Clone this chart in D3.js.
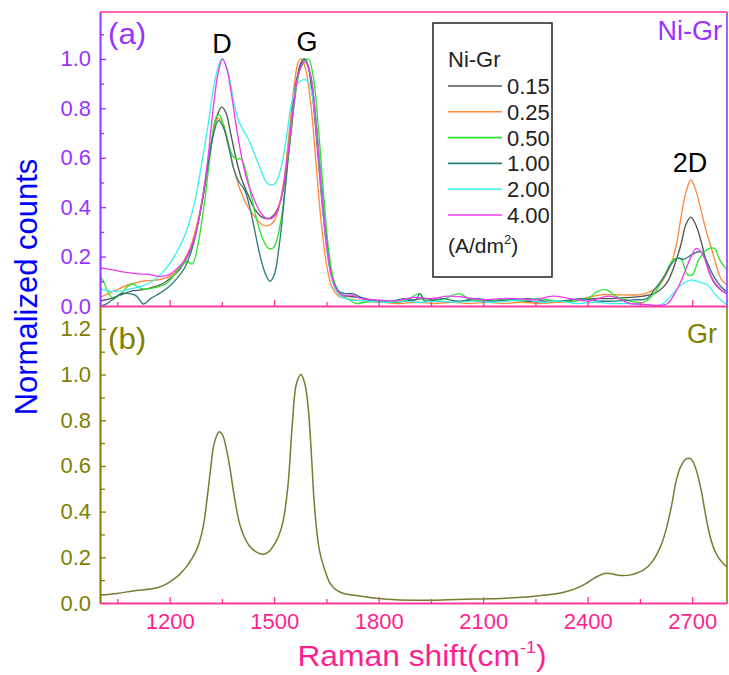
<!DOCTYPE html>
<html>
<head>
<meta charset="utf-8">
<script src="https://cdn.jsdelivr.net/npm/d3@7"></script>
<style>
  html, body { margin: 0; padding: 0; background: #fff; }
  svg { display: block; font-family: "Liberation Sans", Arial, Helvetica, sans-serif; }
</style>
</head>
<body>
<div id="chart"></div>
<script>
// ---- data -------------------------------------------------------------
// Ni-Gr composite coatings, current density in A/dm^2
const currentDensities = ["0.15", "0.25", "0.50", "1.00", "2.00", "4.00"];

// Normalized Raman spectra, [Raman shift (cm^-1), normalized counts]
const niGr015 = [[1000,0.02],[1030,0.03],[1060,0.045],[1090,0.06],[1120,0.065],[1150,0.075],[1180,0.09],[1200,0.11],[1230,0.15],[1260,0.23],[1285,0.36],[1305,0.52],[1325,0.7],[1340,0.785],[1350,0.805],[1362,0.78],[1375,0.7],[1390,0.6],[1405,0.52],[1425,0.45],[1445,0.39],[1465,0.36],[1485,0.355],[1500,0.37],[1515,0.41],[1530,0.5],[1545,0.66],[1560,0.85],[1573,0.97],[1585,1.0],[1597,0.97],[1610,0.85],[1625,0.62],[1640,0.38],[1655,0.2],[1670,0.1],[1690,0.05],[1710,0.04],[1740,0.035],[1780,0.02],[1830,0.015],[1880,0.02],[1930,0.03],[1970,0.02],[2020,0.015],[2070,0.025],[2120,0.02],[2170,0.03],[2220,0.02],[2270,0.015],[2320,0.02],[2370,0.025],[2420,0.03],[2470,0.03],[2520,0.035],[2560,0.04],[2590,0.05],[2612,0.07],[2630,0.1],[2648,0.16],[2668,0.25],[2682,0.33],[2696,0.36],[2710,0.33],[2725,0.265],[2740,0.18],[2754,0.12],[2768,0.085],[2783,0.065],[2800,0.05]];
const niGr025 = [[1000,0.035],[1040,0.06],[1080,0.085],[1120,0.1],[1160,0.105],[1200,0.12],[1230,0.16],[1260,0.24],[1285,0.37],[1305,0.52],[1322,0.68],[1338,0.76],[1352,0.74],[1368,0.66],[1385,0.55],[1405,0.46],[1425,0.4],[1445,0.36],[1465,0.33],[1482,0.325],[1498,0.34],[1512,0.39],[1527,0.5],[1543,0.7],[1558,0.9],[1570,0.99],[1578,1.0],[1590,0.96],[1605,0.82],[1620,0.58],[1635,0.34],[1650,0.17],[1665,0.08],[1685,0.04],[1710,0.03],[1760,0.02],[1810,0.015],[1860,0.01],[1910,0.015],[1960,0.01],[2010,0.015],[2060,0.01],[2110,0.015],[2160,0.01],[2210,0.015],[2260,0.01],[2310,0.015],[2360,0.02],[2400,0.035],[2440,0.045],[2500,0.045],[2552,0.046],[2581,0.058],[2610,0.092],[2639,0.17],[2655,0.25],[2668,0.36],[2682,0.46],[2696,0.51],[2710,0.47],[2725,0.39],[2739,0.31],[2754,0.24],[2768,0.17],[2783,0.11],[2800,0.085]];
const niGr050 = [[1000,0.12],[1010,0.1],[1025,0.05],[1040,0.03],[1060,0.05],[1080,0.08],[1095,0.09],[1110,0.075],[1130,0.068],[1160,0.075],[1190,0.09],[1215,0.13],[1235,0.165],[1250,0.18],[1265,0.17],[1280,0.24],[1300,0.42],[1318,0.63],[1332,0.76],[1342,0.775],[1355,0.73],[1368,0.66],[1380,0.61],[1392,0.595],[1405,0.595],[1418,0.55],[1432,0.46],[1448,0.36],[1465,0.28],[1482,0.235],[1497,0.235],[1510,0.28],[1525,0.4],[1542,0.62],[1560,0.85],[1578,0.97],[1598,1.0],[1612,0.93],[1627,0.72],[1642,0.45],[1657,0.22],[1672,0.1],[1690,0.05],[1710,0.03],[1735,0.01],[1760,0.015],[1800,0.02],[1850,0.015],[1890,0.03],[1915,0.05],[1940,0.02],[1990,0.03],[2030,0.05],[2060,0.03],[2110,0.02],[2160,0.025],[2210,0.02],[2260,0.03],[2310,0.02],[2360,0.02],[2400,0.03],[2430,0.06],[2455,0.065],[2480,0.04],[2520,0.02],[2560,0.015],[2591,0.05],[2619,0.12],[2648,0.19],[2668,0.19],[2677,0.16],[2687,0.127],[2701,0.127],[2720,0.19],[2745,0.23],[2764,0.233],[2778,0.19],[2792,0.16],[2800,0.146]];
const niGr100 = [[1000,0.0],[1020,0.01],[1040,0.03],[1060,0.05],[1085,0.05],[1105,0.04],[1125,0.008],[1145,0.03],[1170,0.05],[1195,0.075],[1220,0.11],[1245,0.16],[1270,0.26],[1290,0.4],[1310,0.57],[1325,0.69],[1340,0.75],[1355,0.72],[1370,0.64],[1385,0.55],[1400,0.5],[1415,0.47],[1430,0.4],[1445,0.3],[1460,0.2],[1475,0.13],[1488,0.1],[1500,0.125],[1515,0.25],[1530,0.45],[1548,0.72],[1565,0.92],[1588,1.0],[1605,0.93],[1620,0.75],[1635,0.5],[1650,0.27],[1665,0.12],[1685,0.06],[1705,0.05],[1725,0.05],[1750,0.035],[1800,0.02],[1840,0.02],[1870,0.03],[1905,0.025],[1918,0.05],[1932,0.02],[1980,0.03],[2030,0.02],[2080,0.03],[2130,0.02],[2180,0.025],[2230,0.03],[2280,0.02],[2330,0.02],[2380,0.03],[2430,0.02],[2480,0.02],[2530,0.025],[2570,0.03],[2591,0.065],[2620,0.12],[2640,0.17],[2658,0.193],[2677,0.19],[2701,0.21],[2725,0.22],[2739,0.19],[2758,0.13],[2783,0.078],[2800,0.058]];
const niGr200 = [[1000,0.07],[1030,0.06],[1060,0.06],[1090,0.07],[1120,0.08],[1150,0.1],[1175,0.13],[1200,0.17],[1225,0.23],[1250,0.31],[1270,0.41],[1290,0.56],[1310,0.73],[1328,0.9],[1342,0.98],[1350,1.0],[1360,0.98],[1372,0.92],[1385,0.82],[1398,0.75],[1412,0.71],[1428,0.67],[1445,0.61],[1462,0.55],[1478,0.5],[1493,0.49],[1505,0.5],[1520,0.56],[1535,0.68],[1550,0.82],[1568,0.9],[1582,0.915],[1597,0.91],[1612,0.83],[1627,0.62],[1642,0.36],[1657,0.17],[1672,0.08],[1690,0.04],[1720,0.025],[1770,0.02],[1820,0.015],[1870,0.02],[1920,0.015],[1970,0.02],[2020,0.015],[2070,0.02],[2120,0.015],[2170,0.02],[2220,0.025],[2270,0.015],[2320,0.02],[2370,0.01],[2420,0.015],[2470,0.01],[2520,0.01],[2570,0.005],[2610,0.005],[2639,0.04],[2668,0.085],[2696,0.105],[2725,0.095],[2745,0.085],[2764,0.05],[2783,0.023],[2800,0.004]];
const niGr400 = [[1000,0.155],[1040,0.145],[1080,0.135],[1110,0.13],[1140,0.128],[1170,0.12],[1195,0.125],[1220,0.15],[1245,0.19],[1270,0.27],[1290,0.4],[1310,0.6],[1325,0.8],[1340,0.95],[1352,1.0],[1364,0.96],[1378,0.85],[1392,0.72],[1407,0.6],[1422,0.51],[1440,0.44],[1460,0.38],[1478,0.355],[1493,0.355],[1508,0.38],[1522,0.45],[1538,0.6],[1555,0.8],[1572,0.95],[1590,0.99],[1605,0.93],[1620,0.74],[1635,0.48],[1650,0.25],[1665,0.12],[1682,0.06],[1700,0.04],[1720,0.045],[1750,0.03],[1800,0.025],[1850,0.02],[1900,0.035],[1950,0.03],[2000,0.04],[2050,0.035],[2100,0.025],[2150,0.03],[2200,0.03],[2250,0.025],[2300,0.04],[2350,0.03],[2400,0.02],[2430,0.03],[2460,0.04],[2490,0.03],[2520,0.01],[2550,0.008],[2580,0.004],[2610,0.003],[2630,0.01],[2650,0.05],[2668,0.1],[2682,0.15],[2697,0.2],[2711,0.233],[2725,0.22],[2736,0.19],[2754,0.12],[2783,0.065],[2800,0.05]];

// Graphite reference spectrum
const grSpectrum = [[1000,0.035],[1050,0.042],[1095,0.053],[1150,0.062],[1180,0.075],[1200,0.092],[1225,0.12],[1248,0.158],[1262,0.19],[1275,0.225],[1287,0.275],[1297,0.34],[1307,0.45],[1317,0.58],[1328,0.7],[1342,0.75],[1352,0.735],[1362,0.68],[1372,0.6],[1382,0.5],[1392,0.41],[1402,0.34],[1414,0.29],[1428,0.252],[1448,0.224],[1468,0.213],[1484,0.224],[1498,0.25],[1512,0.29],[1526,0.36],[1540,0.52],[1552,0.78],[1564,0.96],[1577,1.0],[1588,0.96],[1598,0.85],[1608,0.62],[1614,0.46],[1622,0.32],[1630,0.23],[1642,0.16],[1661,0.085],[1680,0.055],[1700,0.042],[1750,0.03],[1800,0.02],[1850,0.014],[1900,0.012],[1950,0.012],[2000,0.014],[2050,0.016],[2100,0.018],[2150,0.02],[2200,0.024],[2250,0.03],[2300,0.038],[2340,0.05],[2370,0.066],[2395,0.085],[2418,0.108],[2440,0.125],[2458,0.13],[2480,0.124],[2500,0.12],[2520,0.122],[2540,0.13],[2562,0.146],[2585,0.18],[2610,0.25],[2625,0.32],[2640,0.42],[2655,0.54],[2668,0.6],[2682,0.63],[2697,0.63],[2710,0.59],[2725,0.5],[2738,0.39],[2750,0.3],[2762,0.24],[2775,0.2],[2790,0.172],[2800,0.158]];

const niGrSeries = [niGr015, niGr025, niGr050, niGr100, niGr200, niGr400];

// axis ticks
const xMajorTicks = [1200, 1500, 1800, 2100, 2400, 2700];
const xMinorTicks = [1050, 1350, 1650, 1950, 2250, 2550];
const yTopMajorTicks = [0, 0.2, 0.4, 0.6, 0.8, 1.0];
const yTopMinorTicks = [0.1, 0.3, 0.5, 0.7, 0.9, 1.1];
const yBotMajorTicks = [0, 0.2, 0.4, 0.6, 0.8, 1.0, 1.2];
const yBotMinorTicks = [0.1, 0.3, 0.5, 0.7, 0.9, 1.1];

// ---- styles -----------------------------------------------------------
const lineColors = ["#555555", "#ff8a3d", "#2ee62e", "#2d7c7c", "#3ff0f0", "#f03cf0"];
const grColor = "#7a7a30";
const pink = "#ff3399", pinkText = "#ff1f8f";
const purple = "#9933ff";
const olive = "#808000";
const blue = "#0000ff";

// ---- layout -----------------------------------------------------------
const W = 729, H = 675;
const left = 100, right = 727;
const topY0 = 12, topY1 = 306, botY0 = 306, botY1 = 603;

const svg = d3.select("#chart").append("svg").attr("width", W).attr("height", H);

const x = d3.scaleLinear().domain([1000, 2800]).range([left, right]);
const yTop = d3.scaleLinear().domain([0, 1.19]).range([topY1, topY0]);
const yBot = d3.scaleLinear().domain([0, 1.3]).range([botY1, botY0]);

const defs = svg.append("defs");
defs.append("clipPath").attr("id", "clipTop").append("rect")
  .attr("x", left).attr("y", topY0).attr("width", right - left).attr("height", topY1 - topY0);
defs.append("clipPath").attr("id", "clipBot").append("rect")
  .attr("x", left).attr("y", botY0).attr("width", right - left).attr("height", botY1 - botY0);

// ---- spectra ----------------------------------------------------------
const smooth = d3.curveCatmullRom.alpha(0.5);
const lineTop = d3.line().x(d => x(d[0])).y(d => yTop(d[1])).curve(smooth);
const lineBot = d3.line().x(d => x(d[0])).y(d => yBot(d[1])).curve(smooth);

svg.append("g").attr("clip-path", "url(#clipTop)")
  .selectAll("path").data(niGrSeries).join("path")
  .attr("d", lineTop)
  .attr("fill", "none")
  .attr("stroke", (d, i) => lineColors[i])
  .attr("stroke-width", 1.35)
  .attr("stroke-linejoin", "round");

svg.append("g").attr("clip-path", "url(#clipBot)")
  .append("path").datum(grSpectrum)
  .attr("d", lineBot)
  .attr("fill", "none")
  .attr("stroke", grColor)
  .attr("stroke-width", 1.5);

// ---- axes -------------------------------------------------------------
function styleAxis(g, color, textColor) {
  g.select(".domain").attr("stroke", color).attr("stroke-width", 1.6);
  g.selectAll(".tick line").attr("stroke", color).attr("stroke-width", 1.3);
  g.selectAll(".tick text").attr("fill", textColor).attr("font-size", 22)
    .attr("font-family", "'Liberation Sans', Arial, sans-serif");
}

// borders on the right side
svg.append("line").attr("x1", right).attr("x2", right).attr("y1", topY0).attr("y2", topY1)
  .attr("stroke", purple).attr("stroke-width", 1.6);
svg.append("line").attr("x1", right).attr("x2", right).attr("y1", botY0).attr("y2", botY1)
  .attr("stroke", olive).attr("stroke-width", 1.6);

// y axes
const gyTopMinor = svg.append("g").attr("transform", `translate(${left},0)`)
  .call(d3.axisLeft(yTop).tickValues(yTopMinorTicks).tickSize(-4).tickSizeOuter(0).tickFormat(""));
styleAxis(gyTopMinor, purple, purple);
const gyTop = svg.append("g").attr("transform", `translate(${left},0)`)
  .call(d3.axisLeft(yTop).tickValues(yTopMajorTicks).tickSize(-6).tickSizeOuter(0)
    .tickPadding(9).tickFormat(d3.format(".1f")));
styleAxis(gyTop, purple, purple);

const gyBotMinor = svg.append("g").attr("transform", `translate(${left},0)`)
  .call(d3.axisLeft(yBot).tickValues(yBotMinorTicks).tickSize(-5).tickSizeOuter(0).tickFormat(""));
styleAxis(gyBotMinor, olive, olive);
const gyBot = svg.append("g").attr("transform", `translate(${left},0)`)
  .call(d3.axisLeft(yBot).tickValues(yBotMajorTicks).tickSize(-6).tickSizeOuter(0)
    .tickPadding(9).tickFormat(d3.format(".1f")));
styleAxis(gyBot, olive, olive);

// top border
svg.append("line").attr("x1", left).attr("x2", right).attr("y1", topY0).attr("y2", topY0)
  .attr("stroke", pink).attr("stroke-width", 1.6);

// x axes: shared line between panels and bottom axis
[topY1, botY1].forEach((yPos, k) => {
  const gMinor = svg.append("g").attr("transform", `translate(0,${yPos})`)
    .call(d3.axisBottom(x).tickValues(xMinorTicks).tickSize(-4).tickSizeOuter(0).tickFormat(""));
  styleAxis(gMinor, pink, pinkText);
  const gMajor = svg.append("g").attr("transform", `translate(0,${yPos})`)
    .call(d3.axisBottom(x).tickValues(xMajorTicks).tickSize(-6).tickSizeOuter(0)
      .tickPadding(10).tickFormat(k === 1 ? d3.format("d") : ""));
  styleAxis(gMajor, pink, pinkText);
});

// ---- text -------------------------------------------------------------
function label(txt, px, py, size, color, anchor, sx) {
  return svg.append("text")
    .attr("transform", `translate(${px},${py}) scale(${sx || 1},1)`)
    .attr("text-anchor", anchor || "start")
    .attr("font-size", size)
    .attr("fill", color)
    .text(txt);
}

label("(a)", 108, 44, 29, purple, "start", 1.08);
label("Ni-Gr", 722, 40, 27, purple, "end");
label("D", 222, 53, 27, "#000", "middle");
label("G", 307, 51, 27, "#000", "middle");
label("2D", 690, 172, 27, "#000", "middle");
label("(b)", 108, 349, 29, olive, "start", 1.08);
label("Gr", 717, 343, 27, olive, "end");

// y axis title
svg.append("text")
  .attr("transform", `translate(37,287) rotate(-90)`)
  .attr("text-anchor", "middle")
  .attr("font-size", 31)
  .attr("fill", blue)
  .text("Normalized counts");

// x axis title
const xt = svg.append("text")
  .attr("transform", `translate(422,666) scale(1.06,1)`)
  .attr("text-anchor", "middle")
  .attr("font-size", 30)
  .attr("fill", pinkText);
xt.append("tspan").text("Raman shift(cm");
xt.append("tspan").attr("font-size", 17).attr("dy", -13).text("-1");
xt.append("tspan").attr("dy", 13).text(")");

// ---- legend -----------------------------------------------------------
const lg = svg.append("g");
lg.append("rect").attr("x", 433).attr("y", 23).attr("width", 119).attr("height", 254)
  .attr("fill", "#fff").attr("stroke", "#222").attr("stroke-width", 1.5);
lg.append("text").attr("x", 448).attr("y", 67).attr("font-size", 22).attr("fill", "#222").text("Ni-Gr");
const rowY = d3.scalePoint().domain(currentDensities).range([86, 215]);
const rows = lg.selectAll("g.row").data(currentDensities).join("g").attr("class", "row")
  .attr("transform", d => `translate(0,${rowY(d)})`);
rows.append("line").attr("x1", 448).attr("x2", 502).attr("y1", 0).attr("y2", 0)
  .attr("stroke", (d, i) => lineColors[i]).attr("stroke-width", 1.6);
rows.append("text").attr("x", 507).attr("y", 8).attr("font-size", 22).attr("fill", "#222").text(d => d);
const unit = lg.append("text").attr("x", 448).attr("y", 253).attr("font-size", 21).attr("fill", "#222");
unit.append("tspan").text("(A/dm");
unit.append("tspan").attr("font-size", 13).attr("dy", -9).text("2");
unit.append("tspan").attr("dy", 9).text(")");
</script>
</body>
</html>
